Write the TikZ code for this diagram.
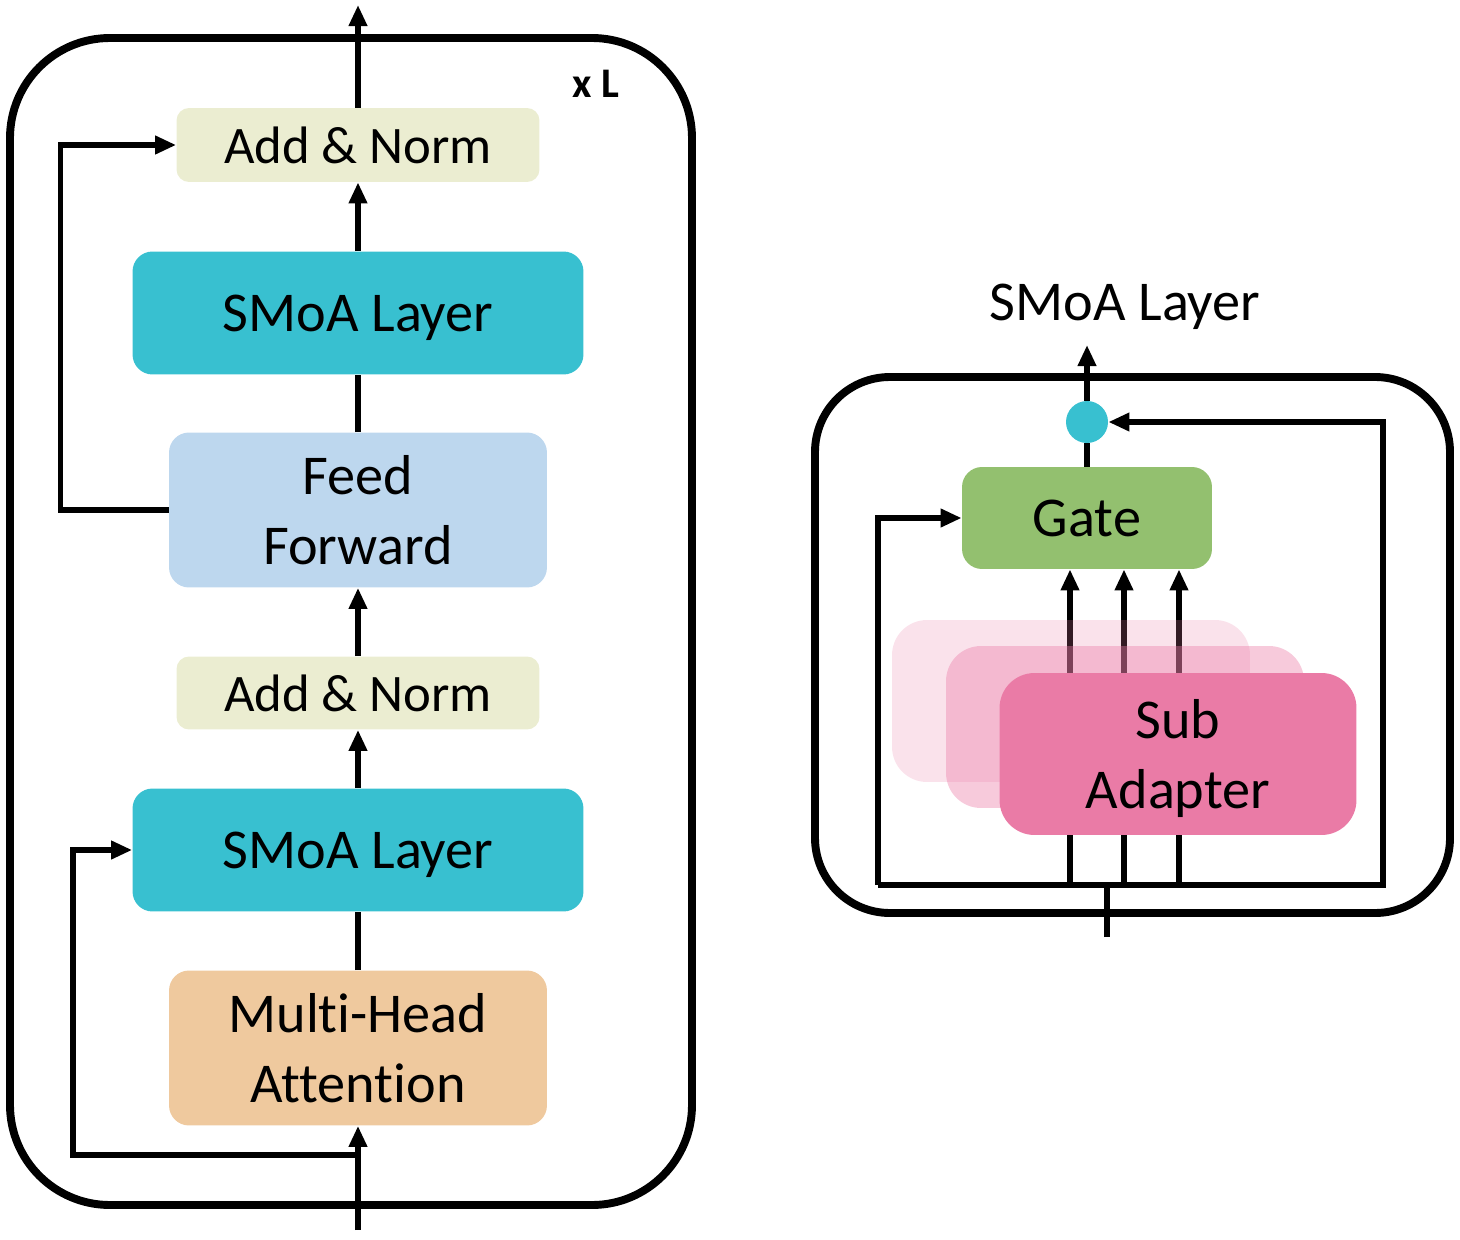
\documentclass[tikz,border=0pt]{standalone}
\usepackage{fontspec}
\setmainfont{Carlito}[Ligatures=NoCommon]
\usetikzlibrary{arrows.meta}
\definecolor{normcol}{RGB}{235,237,209}
\definecolor{smoacol}{RGB}{56,192,208}
\definecolor{ffcol}{RGB}{189,215,238}
\definecolor{attcol}{RGB}{239,201,158}
\definecolor{gatecol}{RGB}{147,192,111}
\definecolor{subcol}{RGB}{234,123,166}
\begin{document}
\begin{tikzpicture}[x=0.02cm,y=-0.02cm,
    blk/.style={rounded corners=0.4cm,inner sep=0pt,align=center,text depth=0pt,font=\fontsize{32}{40}\selectfont},
    wire/.style={line width=3.2pt},
    arr/.style={wire,-{Triangle[length=12pt,width=10pt]}},
    frame/.style={line width=4.5pt}]
    \useasboundingbox (0,0) rectangle (1460,1240);
    \draw[frame,rounded corners=2cm] (10,38) rectangle (692,1205);
    \node[font=\bfseries\fontsize{24}{28}\selectfont] (rep) at (596,84) {x L};
    \node[blk,fill=normcol,rounded corners=0.25cm,minimum width=7.26cm,minimum height=1.48cm,font=\fontsize{30}{36}\selectfont] (addtop) at (358,145) {Add \& Norm};
    \node[blk,fill=smoacol,minimum width=9.02cm,minimum height=2.46cm] (smoatop) at (358,313) {SMoA Layer};
    \node[blk,fill=ffcol,minimum width=7.56cm,minimum height=3.1cm] (ff) at (358,510) {Feed\\Forward};
    \node[blk,fill=normcol,rounded corners=0.25cm,minimum width=7.26cm,minimum height=1.46cm,font=\fontsize{30}{36}\selectfont] (addlow) at (358,693) {Add \& Norm};
    \node[blk,fill=smoacol,minimum width=9.02cm,minimum height=2.46cm] (smoalow) at (358,850) {SMoA Layer};
    \node[blk,fill=attcol,minimum width=7.56cm,minimum height=3.1cm] (mha) at (358,1048) {Multi-Head\\Attention};
    \coordinate (out) at (358,5);
    \coordinate (in) at (358,1230);
    \coordinate (split) at (358,1155);
    \draw[arr] (addtop.north) -- (out);
    \draw[arr] (smoatop.north) -- (addtop.south);
    \draw[wire] (ff.north) -- (smoatop.south);
    \draw[arr] (addlow.north) -- (ff.south);
    \draw[arr] (smoalow.north) -- (addlow.south);
    \draw[wire] (mha.north) -- (smoalow.south);
    \draw[arr] (in) -- (mha.south);
    \draw[arr] (ff.west) -- ++(-108,0) |- (addtop.west);
    \draw[arr] (split) -- ++(-285,0) |- (smoalow.west);

    \node[text depth=0pt,font=\fontsize{32}{40}\selectfont] (title) at (1125,302) {SMoA Layer};
    \draw[frame,rounded corners=1.5cm] (815,377) rectangle (1450,913);
    \node[circle,fill=smoacol,minimum size=0.84cm,inner sep=0pt] (mix) at (1087,422) {};
    \node[blk,fill=gatecol,minimum width=5cm,minimum height=2.04cm] (gate) at (1087,518) {Gate};
    \coordinate (rin) at (1107,937);
    \coordinate (bus) at (1107,885);
    \coordinate (bl) at (878,885);
    \coordinate (br) at (1383,885);
    \coordinate (e1) at (1070,885);
    \coordinate (e2) at (1124,885);
    \coordinate (e3) at (1179,885);
    \coordinate (rout) at (1087,345);
    \draw[arr] (mix.north) -- (rout);
    \draw[wire] (gate.north) -- (mix.south);
    \draw[wire] (rin) -- (bus);
    \draw[arr] (bl) -- (br) |- (mix.east);
    \draw[arr] (bl) |- (gate.west);
    \foreach \e in {e1,e2,e3}
        \draw[arr] (\e) -- (\e |- gate.south);
    \node[blk,rounded corners=0.7cm,fill=subcol,fill opacity=0.22,minimum width=7.16cm,minimum height=3.24cm] (sub1) at (1071,701) {};
    \node[blk,rounded corners=0.7cm,fill=subcol,fill opacity=0.4,minimum width=7.16cm,minimum height=3.24cm] (sub2) at (1125,727) {};
    \node[blk,rounded corners=0.7cm,fill=subcol,minimum width=7.14cm,minimum height=3.24cm] (sub3) at (1178,754) {Sub\\Adapter};
\end{tikzpicture}
\end{document}
